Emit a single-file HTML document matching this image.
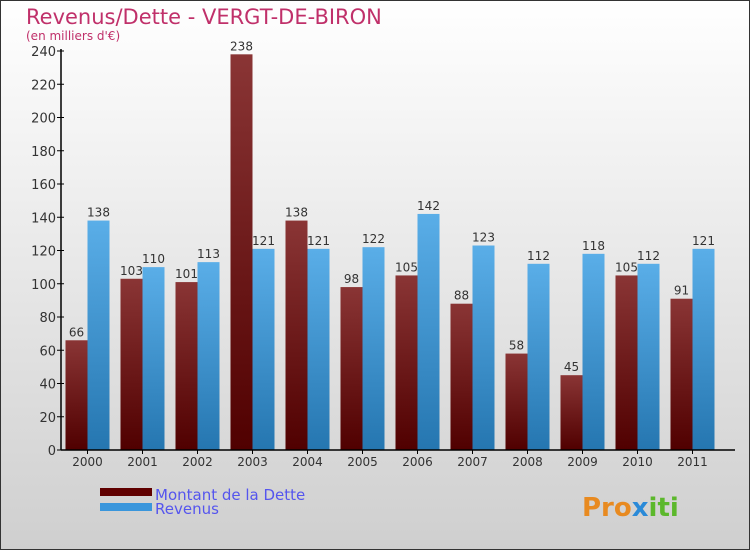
<!DOCTYPE html>
<html><head><meta charset="utf-8"><style>
body{margin:0}
#c{width:750px;height:550px;position:relative;font-family:"DejaVu Sans","Liberation Sans",sans-serif}
</style></head><body>
<div id="c">
<svg width="750" height="550" id="svg">
<defs>
<linearGradient id="bg" x1="0" y1="0" x2="0" y2="1"><stop offset="0" stop-color="#ffffff"/><stop offset="1" stop-color="#cfcfcf"/></linearGradient>
<linearGradient id="gd" x1="0" y1="0" x2="0" y2="1"><stop offset="0" stop-color="#8a3535"/><stop offset="1" stop-color="#500000"/></linearGradient>
<linearGradient id="gr" x1="0" y1="0" x2="0" y2="1"><stop offset="0" stop-color="#5aaee8"/><stop offset="1" stop-color="#2576b0"/></linearGradient>
</defs>
<rect x="0.5" y="0.5" width="749" height="549" fill="url(#bg)" stroke="#333"/>
<text x="26" y="24" font-size="21" fill="#c0306a">Revenus/Dette - VERGT-DE-BIRON</text>
<text x="26" y="40" font-size="12" fill="#c0306a">(en milliers d'€)</text>
<g id="plot"></g>
<rect x="100" y="488" width="52" height="8" fill="#600000"/>
<rect x="100" y="503" width="52" height="8" fill="#3a96dc"/>
<text x="155" y="500" font-size="15" fill="#5555ee">Montant de la Dette</text>
<text x="155" y="514" font-size="15" fill="#5555ee">Revenus</text>
<text x="582" y="516" font-size="26" font-weight="bold" fill="#e88a20">Pro<tspan fill="#2a8ad8">x</tspan><tspan fill="#5cb82c">iti</tspan></text>
</svg></div>
<script>
const years=["2000","2001","2002","2003","2004","2005","2006","2007","2008","2009","2010","2011"];
const dette=[66,103,101,238,138,98,105,88,58,45,105,91];
const revenus=[138,110,113,121,121,122,142,123,112,118,112,121];
const ticks=[0,20,40,60,80,100,120,140,160,180,200,220,240];
const NS="http://www.w3.org/2000/svg";
const g=document.getElementById('plot');
const y0=450,y240=51,x0=61;
function y(v){return y0-(v/240)*(y0-y240);}
function gx(i){return 65.5+55*i;}
function mk(t,a){const e=document.createElementNS(NS,t);for(const k in a)e.setAttribute(k,a[k]);g.appendChild(e);return e;}
ticks.forEach(t=>{
 const l=mk('line',{x1:x0-4,x2:x0+3,y1:y(t),y2:y(t),stroke:'#000'});
 
 
 const tx=mk('text',{x:x0-5,y:y(t)+5,'font-size':13,'text-anchor':'end',fill:'#333'});
 tx.textContent=t;
 
 
});
years.forEach((yr,i)=>{
 const s=gx(i);
 const b1=mk('rect',{x:s,y:y(dette[i]),width:22,height:y0-y(dette[i]),fill:'url(#gd)'});
 
 
 const b2=mk('rect',{x:s+22,y:y(revenus[i]),width:22,height:y0-y(revenus[i]),fill:'url(#gr)'});
 
 
 const v1=mk('text',{x:s+11,y:y(dette[i])-4,'font-size':12,'text-anchor':'middle',fill:'#333'});
 v1.textContent=dette[i];
 
 
 const v2=mk('text',{x:s+33,y:y(revenus[i])-4,'font-size':12,'text-anchor':'middle',fill:'#333'});
 v2.textContent=revenus[i];
 
 
 const tk=mk('line',{x1:s+22,x2:s+22,y1:y0,y2:y0+4,stroke:'#000'});
 
 
 const xl=mk('text',{x:s+22,y:y0+16,'font-size':12,'text-anchor':'middle',fill:'#333'});
 xl.textContent=yr;
 
 
});
const ax=mk('line',{x1:x0,x2:x0,y1:y240-2,y2:y0,stroke:'#000','stroke-width':1.5});


const bx=mk('line',{x1:x0,x2:735,y1:y0,y2:y0,stroke:'#000','stroke-width':1.5});


</script>
</body></html>
